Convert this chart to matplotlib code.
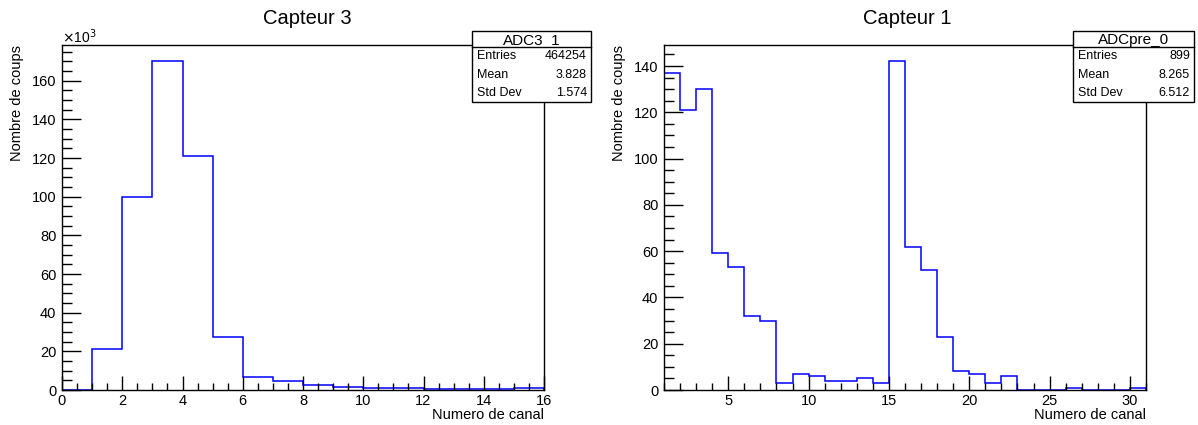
import matplotlib
matplotlib.use("Agg")
import matplotlib.pyplot as plt
from matplotlib.patches import Rectangle
from matplotlib.lines import Line2D
from matplotlib.ticker import MultipleLocator, FuncFormatter

plt.rcParams['font.family'] = ['Liberation Sans', 'DejaVu Sans']

# Capteur 3 : counts per channel (in thousands), bins 0..16
edges3 = list(range(0, 17))
counts3 = [0, 21.3, 99.8, 170.0, 121.2, 27.2, 6.9, 4.6, 2.7, 1.5, 1.1, 0.8, 0.6, 0.5, 0.5, 1.0]
stats3 = ["ADC3_1", "464254", "3.828", "1.574"]

# Capteur 1 : counts per channel, bins 1..31
edges1 = list(range(1, 32))
counts1 = [137, 121, 130, 59, 53, 32, 30, 3, 7, 6, 4, 4, 5, 3, 142,
           62, 52, 23, 8, 7, 3, 6, 0, 0, 0, 1, 0, 0, 0, 1]
stats1 = ["ADCpre_0", "899", "8.265", "6.512"]

W, H = 1198, 425
fig = plt.figure(figsize=(W / 100, H / 100), dpi=100)

def px(x, y):
    # pixel coords (from top-left) -> figure fraction
    return x / W, 1 - y / H

def make_panel(left_px, edges, counts, title, stats, xmaj, xmin_step, ymax, ymaj, ymin_step,
               box_x0, box_x1, title_x, xscale_note=False):
    ax = fig.add_axes([left_px / W, 1 - 390 / H, 482 / W, 345 / H])
    ax.stairs(counts, edges, baseline=0, color=(0, 0, 1), lw=1.1)
    ax.set_xlim(edges[0], edges[-1])
    ax.set_ylim(0, ymax)
    ax.xaxis.set_major_locator(MultipleLocator(xmaj))
    ax.xaxis.set_minor_locator(MultipleLocator(xmin_step))
    ax.yaxis.set_major_locator(MultipleLocator(ymaj))
    ax.yaxis.set_minor_locator(MultipleLocator(ymin_step))
    ax.xaxis.set_major_formatter(FuncFormatter(lambda v, p: "%g" % v))
    ax.tick_params(which='both', direction='in', top=False, right=False,
                   labelsize=10.5, color='black', width=1.0)
    ax.tick_params(axis='x', which='major', length=10, pad=3)
    ax.tick_params(axis='x', which='minor', length=5)
    ax.tick_params(axis='y', which='major', length=14, pad=4)
    ax.tick_params(axis='y', which='minor', length=7)
    for s in ax.spines.values():
        s.set_linewidth(1.0)
        s.set_color('black')

    # titles
    fig.text(*px(title_x, 18), title, ha='center', va='center', fontsize=14.5)
    fig.text(*px(left_px + 482, 415), "Numero de canal", ha='right', va='center', fontsize=10.5)
    fig.text(*px(left_px - 45, 45), "Nombre de coups", ha='center', va='top',
             rotation=90, fontsize=10.5)
    if xscale_note:
        fig.text(*px(left_px, 43), r"$\times$10$^{3}$", ha='left', va='baseline', fontsize=10)

    # stats box
    top, hline, bot = 31, 47, 102
    x0, y0 = px(box_x0, bot)
    x1, y1 = px(box_x1, top)
    fig.add_artist(Rectangle((x0, y0), x1 - x0, y1 - y0, transform=fig.transFigure,
                             facecolor='white', edgecolor='black', lw=1.0, zorder=5))
    fig.add_artist(Line2D([x0, x1], [1 - hline / H] * 2, transform=fig.transFigure,
                          color='black', lw=1.0, zorder=6))
    fig.text(*px((box_x0 + box_x1) / 2, (top + hline) / 2 + 1), stats[0],
             ha='center', va='center', fontsize=11, zorder=7)
    names = ["Entries", "Mean", "Std Dev"]
    rowh = (bot - hline) / 3
    for i, (n, v) in enumerate(zip(names, stats[1:])):
        yc = hline + (i + 0.5) * rowh
        fig.text(*px(box_x0 + 5, yc), n, ha='left', va='center', fontsize=9, zorder=7)
        fig.text(*px(box_x1 - 4, yc), v, ha='right', va='center', fontsize=9, zorder=7)
    return ax

make_panel(62, edges3, counts3, "Capteur 3", stats3, 2, 0.5, 178.5, 20, 5,
           472, 591, 307, xscale_note=True)
make_panel(664, edges1, counts1, "Capteur 1", stats1, 5, 1, 149.1, 20, 5,
           1073, 1194, 907)

fig.savefig("out.png", dpi=100)
